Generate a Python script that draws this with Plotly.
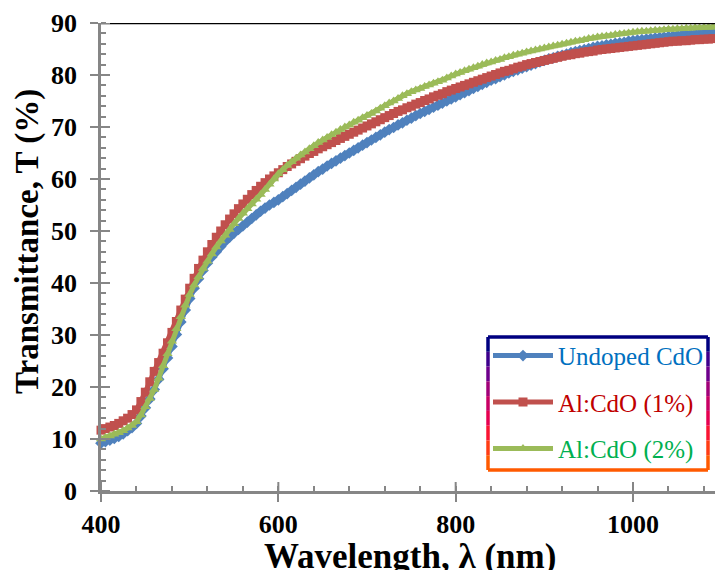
import plotly.graph_objects as go

wavelength = list(range(400, 1101, 5))

undoped = [9.2, 9.5, 9.8, 10.1, 10.5, 11.0, 11.6, 12.2, 13.0, 14.4, 16.0, 17.7, 19.5, 21.5, 23.5, 25.6, 27.8, 30.1, 32.5, 34.8,
           37.0, 39.0, 40.8, 42.4, 43.8, 45.0, 46.0, 47.0, 48.0, 48.8, 49.6, 50.3, 51.0, 51.7, 52.4, 53.1, 53.8, 54.4, 55.0, 55.5,
           56.0, 56.6, 57.2, 57.8, 58.4, 59.0, 59.6, 60.2, 60.8, 61.4, 61.9, 62.5, 63.0, 63.5, 64.0, 64.5, 65.0, 65.5, 66.0, 66.5,
           67.0, 67.5, 68.0, 68.5, 69.0, 69.5, 69.9, 70.4, 70.8, 71.3, 71.7, 72.2, 72.6, 73.0, 73.4, 73.8, 74.2, 74.6, 75.0, 75.4,
           75.8, 76.2, 76.6, 77.0, 77.4, 77.8, 78.2, 78.6, 79.0, 79.3, 79.7, 80.0, 80.4, 80.7, 81.0, 81.3, 81.6, 81.9, 82.2, 82.5,
           82.8, 83.1, 83.3, 83.6, 83.8, 84.0, 84.3, 84.5, 84.7, 84.9, 85.1, 85.3, 85.5, 85.6, 85.8, 85.9, 86.1, 86.2, 86.3, 86.5,
           86.6, 86.7, 86.8, 86.9, 87.0, 87.1, 87.2, 87.3, 87.4, 87.5, 87.6, 87.7, 87.7, 87.8, 87.9, 87.9, 88.0, 88.1, 88.1, 88.2,
           88.2]

al1 = [11.7, 12.0, 12.3, 12.6, 13.0, 13.5, 14.0, 14.7, 15.6, 17.2, 19.0, 21.0, 23.0, 24.7, 26.5, 28.5, 30.5, 32.6, 34.8, 36.9,
       39.0, 40.9, 42.8, 44.4, 46.0, 47.4, 48.8, 50.0, 51.2, 52.3, 53.3, 54.3, 55.2, 56.1, 57.0, 57.8, 58.6, 59.3, 60.0, 60.6,
       61.2, 61.8, 62.4, 62.9, 63.4, 63.9, 64.4, 64.9, 65.3, 65.8, 66.2, 66.6, 67.0, 67.4, 67.8, 68.2, 68.6, 69.0, 69.4, 69.8,
       70.2, 70.6, 71.0, 71.4, 71.8, 72.2, 72.6, 73.0, 73.3, 73.7, 74.0, 74.4, 74.7, 75.1, 75.4, 75.8, 76.1, 76.4, 76.8, 77.1,
       77.4, 77.7, 78.0, 78.3, 78.6, 78.9, 79.2, 79.5, 79.8, 80.1, 80.4, 80.7, 80.9, 81.2, 81.5, 81.7, 82.0, 82.2, 82.4, 82.6,
       82.8, 83.0, 83.2, 83.4, 83.6, 83.8, 83.9, 84.1, 84.2, 84.4, 84.5, 84.6, 84.8, 84.9, 85.0, 85.1, 85.2, 85.3, 85.4, 85.5,
       85.6, 85.7, 85.8, 85.9, 86.0, 86.1, 86.2, 86.3, 86.4, 86.5, 86.5, 86.6, 86.6, 86.7, 86.8, 86.8, 86.9, 86.9, 87.0, 87.0,
       87.1]

al2 = [10.0, 10.3, 10.6, 10.9, 11.2, 11.6, 12.1, 12.6, 13.3, 14.6, 16.2, 17.8, 19.5, 21.7, 24.1, 26.4, 28.8, 31.2, 33.5, 35.7,
       37.8, 39.6, 41.2, 42.8, 44.2, 45.6, 46.9, 48.1, 49.2, 50.3, 51.4, 52.4, 53.4, 54.3, 55.2, 56.1, 57.0, 58.0, 59.0, 60.0,
       61.0, 61.8, 62.6, 63.3, 64.0, 64.6, 65.2, 65.8, 66.4, 67.0, 67.5, 68.0, 68.5, 69.0, 69.5, 70.0, 70.4, 70.9, 71.3, 71.8,
       72.2, 72.6, 73.1, 73.6, 74.1, 74.6, 75.0, 75.5, 76.0, 76.4, 76.8, 77.1, 77.4, 77.8, 78.1, 78.4, 78.7, 79.0, 79.4, 79.8,
       80.2, 80.5, 80.8, 81.1, 81.4, 81.7, 82.0, 82.3, 82.5, 82.8, 83.0, 83.3, 83.5, 83.8, 84.0, 84.2, 84.4, 84.6, 84.8, 85.0,
       85.2, 85.4, 85.6, 85.7, 85.9, 86.1, 86.3, 86.5, 86.6, 86.8, 87.0, 87.1, 87.3, 87.4, 87.5, 87.6, 87.8, 87.9, 88.0, 88.1,
       88.2, 88.3, 88.4, 88.4, 88.5, 88.6, 88.6, 88.7, 88.8, 88.8, 88.9, 88.9, 89.0, 89.0, 89.1, 89.1, 89.2, 89.2, 89.2, 89.3,
       89.3]

series_names = ["Undoped CdO", "Al:CdO (1%)", "Al:CdO (2%)"]
series_values = [undoped, al1, al2]
line_colors = ["#4F81BD", "#C0504D", "#9BBB59"]
text_colors = ["#0070C0", "#C00000", "#00B050"]
symbols = ["diamond", "square", "triangle-up"]

x_ticks = [400, 600, 800, 1000]
y_ticks = [0, 10, 20, 30, 40, 50, 60, 70, 80, 90]

SERIF = "Liberation Serif, Times New Roman, serif"
AXIS_GRAY = "#868686"

fig = go.Figure()
for name, vals, lc, tc, sym in zip(series_names, series_values, line_colors, text_colors, symbols):
    fig.add_trace(go.Scatter(
        x=wavelength, y=vals, mode="lines+markers",
        name=f"<span style='color:{tc}'>{name}</span>",
        legendgroup=name,
        line=dict(color=lc, width=5),
        marker=dict(symbol=sym, size=9, color=lc, line=dict(width=0)),
        cliponaxis=False,
    ))

shapes = []
shapes.append(dict(type="line", xref="x domain", yref="y", x0=0, x1=1, y0=90, y1=90,
                   line=dict(color="black", width=2.5), layer="above"))
for yv in y_ticks:
    shapes.append(dict(type="line", xref="x domain", yref="y", x0=0, x1=9 / 614, y0=yv, y1=yv,
                       line=dict(color=AXIS_GRAY, width=2), layer="above"))
for xv in x_ticks:
    shapes.append(dict(type="line", xref="x", yref="y domain", x0=xv, x1=xv, y0=0, y1=9 / 468,
                       line=dict(color=AXIS_GRAY, width=2), layer="above"))

lx0, lx1 = (488 - 101) / 614, (708 - 101) / 614
ly0, ly1 = (491 - 470) / 468, (491 - 337) / 468
shapes.append(dict(type="rect", xref="paper", yref="paper", x0=lx0, x1=lx1, y0=ly0, y1=ly1,
                   fillcolor="white", line=dict(width=0), layer="above"))
grad = [(0, 0, 128), (60, 0, 140), (110, 0, 140), (160, 0, 120), (200, 0, 100), (230, 0, 80), (250, 20, 50), (255, 60, 20), (255, 90, 0)]
n = len(grad)
for i, c in enumerate(grad):
    col = f"rgb{c}"
    ya = ly1 - (ly1 - ly0) * i / n
    yb = ly1 - (ly1 - ly0) * (i + 1) / n
    for xx in (lx0, lx1):
        shapes.append(dict(type="line", xref="paper", yref="paper", x0=xx, x1=xx, y0=ya, y1=yb,
                           line=dict(color=col, width=3.5), layer="above"))
shapes.append(dict(type="line", xref="paper", yref="paper", x0=lx0, x1=lx1, y0=ly1, y1=ly1,
                   line=dict(color="rgb(0,0,128)", width=3.5), layer="above"))
shapes.append(dict(type="line", xref="paper", yref="paper", x0=lx0, x1=lx1, y0=ly0, y1=ly0,
                   line=dict(color="rgb(255,90,0)", width=3.5), layer="above"))

fig.update_layout(
    width=715, height=570,
    margin=dict(l=101, r=0, t=23, b=79),
    paper_bgcolor="white", plot_bgcolor="white",
    font=dict(family=SERIF, color="black"),
    showlegend=True,
    legend=dict(x=lx0 + 0.0, y=ly1 + 0.009, xanchor="left", yanchor="top",
                bgcolor="rgba(0,0,0,0)", borderwidth=0,
                font=dict(family=SERIF, size=25), itemwidth=60, tracegroupgap=11),
    shapes=shapes,
    xaxis=dict(range=[400, 400 + 614 / 0.8867], tickvals=x_ticks, ticks="outside", ticklen=8, tickwidth=2,
               tickcolor=AXIS_GRAY, showline=True, linecolor=AXIS_GRAY, linewidth=2.5, showgrid=False,
               zeroline=False, tickfont=dict(family=SERIF, size=26, color="black", weight="bold"),
               ticklabelstandoff=0,
               minor=dict(dtick=40, tick0=400, ticks="inside", ticklen=5, tickwidth=1.5, tickcolor=AXIS_GRAY, showgrid=False)),
    yaxis=dict(range=[0, 90], tickvals=y_ticks, ticks="outside", ticklen=8, tickwidth=2,
               tickcolor=AXIS_GRAY, showline=True, linecolor=AXIS_GRAY, linewidth=2.5, showgrid=False,
               zeroline=False, tickfont=dict(family=SERIF, size=26, color="black", weight="bold"),
               ticklabelstandoff=8,
               minor=dict(dtick=2, tick0=0, ticks="inside", ticklen=5, tickwidth=1.5, tickcolor=AXIS_GRAY, showgrid=False)),
    annotations=[
        dict(text="<b>Wavelength, λ (nm)</b>", xref="paper", yref="paper", x=(410 - 101) / 614, y=(491 - 556) / 468,
             xanchor="center", yanchor="middle", showarrow=False, font=dict(family=SERIF, size=35, color="black")),
        dict(text="<b>Transmittance, T (%)</b>", xref="paper", yref="paper", x=(27 - 101) / 614, y=(491 - 242) / 468,
             xanchor="center", yanchor="middle", textangle=-90, showarrow=False,
             font=dict(family=SERIF, size=33, color="black")),
    ],
)

fig.write_html("out.html")
